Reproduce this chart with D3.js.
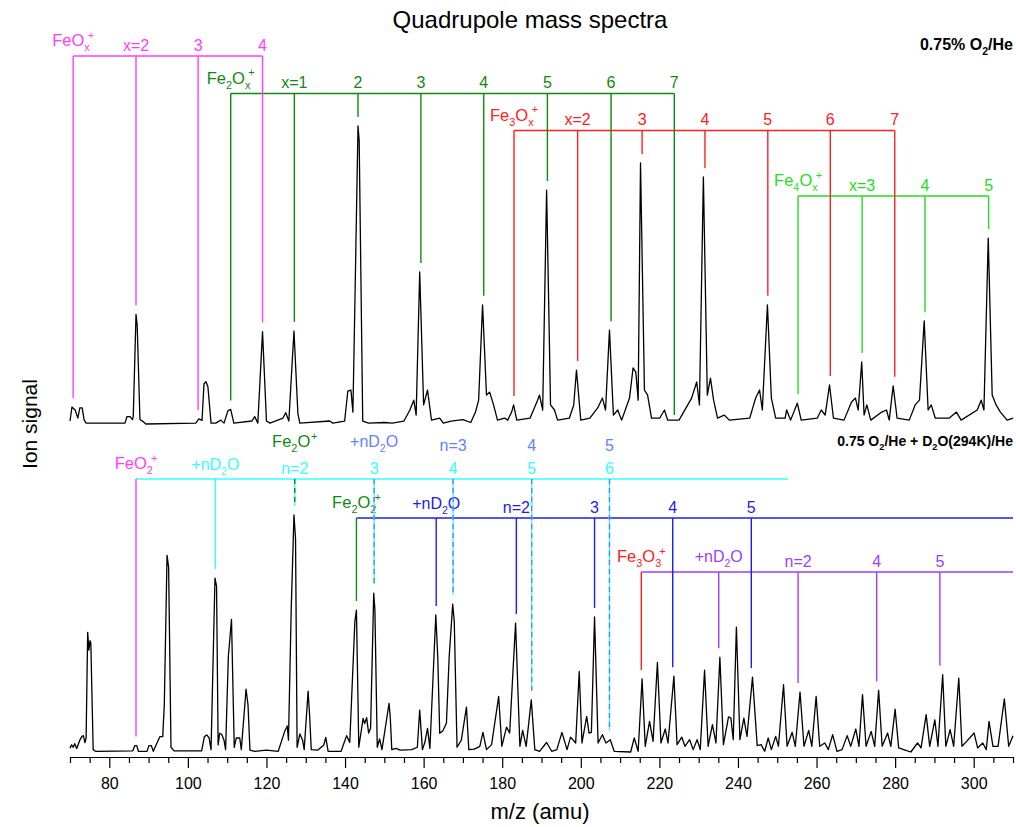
<!DOCTYPE html>
<html lang="en">
<head>
<meta charset="UTF-8">
<title>Quadrupole mass spectra</title>
<script src="https://cdn.jsdelivr.net/npm/d3@7"></script>
<style>
  body { margin: 0; background: #fff; }
  svg { font-family: "Liberation Sans", Arial, sans-serif; }
  .spec { fill: none; stroke: #000; stroke-width: 1.3; stroke-linejoin: round; }
  .axis path, .axis line { stroke: #000; stroke-width: 1.2; }
  .axis text { font-size: 16px; fill: #000; font-family: "Liberation Sans", Arial, sans-serif; }
</style>
</head>
<body>
<svg id="chart"></svg>
<script>
// ---- data ----
var massTicks = [80, 100, 120, 140, 160, 180, 200, 220, 240, 260, 280, 300]

// upper spectrum: 0.75% O2/He  [m/z, signal]
var upperSpectrum = [
  [70.0,1],[70.5,5.7],[71.3,4.7],[72.0,2],[72.5,5.4],[73.1,5.4],[73.6,1.3],[74.1,0.3],
  [84.0,0.3],[84.5,2.5],[85.3,2.5],[85.9,1.5],[86.1,2.5],[86.8,36.8],[87.1,33],[87.8,1.5],[88.6,0.8],[89.3,0],
  [102.0,0.3],[102.8,1.7],[103.6,1.2],[104.1,13.5],[104.6,14.2],[105.1,12.5],[105.9,0.3],
  [107.1,0.3],[108.4,1.3],[109.2,0.3],[110.2,4.5],[110.9,4.9],[111.7,0.3],
  [116.3,1],[117.0,2.5],[117.8,0.3],[119.0,31],[120.0,1],[120.9,0.3],
  [124.2,2],[124.9,3.8],[125.7,1],[127.0,31.2],[128.0,3.5],[128.5,0.3],
  [136.1,1],[136.9,0.3],[139.9,1],[140.7,11],[141.5,11.4],[142.0,4],[142.5,40],[143.3,100],[143.6,95],[144.5,1],
  [146,0.3],[150,0.5],[152,0.3],[155,1],
  [156.5,4.7],[157.5,8],[158.1,3],[159.0,51],[160.0,6.4],[161.0,11.4],[162.0,1.3],
  [164.1,2],[165,0.3],[167,1],[170,1.5],[172,0.5],
  [173.2,4],[174.0,8],[175.0,40],[176.0,9.7],[176.8,10.7],[177.8,6.4],[178.8,1.3],
  [180.6,2],[181.4,1.3],[182.4,4],[182.9,6.4],[183.7,1.3],
  [187.1,2],[189.0,8],[189.5,9.7],[190.3,4.7],[191.3,78.5],[192.3,6.4],[193.3,4.7],[194.1,1.3],
  [197.1,2],[198.2,6.4],[198.9,18.1],[200.0,1.3],
  [202.3,2],[204.3,5.4],[205.5,8.7],[206.3,4.7],[207.3,31.5],[208.3,3],[209.4,4.7],[210.4,1.3],
  [212.4,8.7],[213.3,18.8],[214.0,17.4],[214.6,8],[215.2,87.6],[216.2,11.4],[217.0,9.7],[218.0,2],
  [220.1,2],[221.3,4.7],[222.1,1.3],[225,1.3],
  [228.2,8.7],[229.5,14.1],[230.2,6.4],[231.2,82.9],[232.2,9.7],[233.0,15.4],[233.8,8],[234.8,2],
  [236.5,3],[237.8,1.3],
  [243,2],[244.5,8.7],[245.5,11.4],[246.2,4.7],[247.5,40],[248.5,8.7],[249.6,2],
  [252.0,2],[252.4,4.7],[253.4,1.3],[255.1,7],[256.1,1.3],
  [260.2,2],[261.2,4.7],[262.2,3],[263.3,13.1],[264.3,2],
  [267.0,1.3],[268.9,7.4],[269.9,8.7],[270.6,4.7],[271.5,20.8],[272.1,3],[272.8,6.4],[273.8,1.3],
  [276.6,4],[277.8,4.7],[278.5,1.3],[279.5,12.8],[280.5,2],
  [283.6,1.3],[285.1,6.4],[286.2,8],[287.4,34.6],[288.4,4.7],[289.2,6.4],[290.2,2],
  [293.8,2],[295.6,4],[296.8,1.3],
  [300.9,4.7],[301.9,8],[302.6,4.7],[303.7,62.4],[304.7,9.7],[305.7,6.4],[306.8,4],[308.5,1.3],[310,2]
]

// lower spectrum: 0.75 O2/He + D2O(294K)/He
var lowerSpectrum = [
  [70.0,1.6],[70.4,3],[70.8,2],[71.2,3.5],[71.7,1.5],[72.5,5],[73.0,6.5],[73.4,6.9],[73.8,4],[74.1,6],
  [74.5,50.5],[74.8,43],[75.1,47],[75.3,46],[75.9,1],[76.5,0.3],
  [86.0,0.5],[86.5,2.7],[87.0,2.7],[87.4,0.3],
  [89.6,0.3],[90.1,2.7],[90.7,2.7],[91.2,0.3],
  [92.2,4],[92.9,6.5],[93.6,6.5],[94.0,20],[94.7,83],[95.1,78],[95.7,2],[96.5,0.5],
  [103.5,0.5],[104.2,6.5],[104.8,7.2],[105.4,6],[105.9,1],[106.9,73.4],[107.3,70],[107.7,3],
  [108.1,7.9],[108.6,7.5],[109.2,5],[109.6,1],[110.3,40.2],[111.1,56],[111.8,2],[112.3,5.9],[113.2,5.9],
  [113.6,1],[114.8,26.5],[115.3,20],[115.8,0.8],
  [117,0.3],[120,0.8],[123,0.3],
  [124.7,9],[125.3,11],[125.6,5],[126.3,60],[127.0,100],[127.4,90],[127.8,2],[128.5,7.6],[129.2,5],
  [129.6,1],[130.6,25.7],[131.0,15],[131.4,1],
  [133.1,0.8],[134.6,3],[135.1,6.2],[135.7,0.3],[139.0,0.3],[140.4,6.9],[141.2,4],
  [142.5,55],[142.9,59.9],[143.5,2],[144.6,14.2],[145.0,12],[145.5,14.5],[146.0,8],[146.5,10],
  [147.3,67],[147.6,60],[148.2,2],[148.8,5.5],[149.4,1],[151.2,20.5],[151.5,15],[151.9,1],
  [153,1.5],[154,0.8],[157,1],[158.4,2],[159.0,17.7],[159.7,1],[160.3,4],[161.0,10],[161.6,1.5],
  [163.1,57.8],[163.6,40],[164.1,7.9],[164.9,9],[165.8,12.1],[166.5,40],[167.4,62.4],[167.8,55],
  [168.5,2],[169.6,5],[170.9,18.9],[171.5,1],
  [172.9,1.2],[174.3,2.4],[175.1,8.3],[176.0,1],[177.3,3.1],[179.1,23.5],[179.9,2.4],[181.1,10.5],
  [181.9,8],[183.4,54.4],[184.5,2.4],[185.2,9.1],[186.1,2.4],[187.4,22],[188.3,1],
  [189.5,0.3],[191.3,4],[192.6,0.3],[193.9,1],[195.2,8.3],[196.5,1],[197.4,6.3],[198.7,3.8],
  [199.6,34],[200.3,3.8],[201.5,15],[202.1,8],[202.7,8.3],[203.5,57],[204.4,3.8],[205.5,7.3],
  [206.4,3.8],[207.5,5.2],[208.5,0.3],
  [212.7,0],[213.6,5.9],[214.6,0.3],[215.6,30.8],[216.4,2.4],[217.5,12.9],[218.4,4.5],[219.5,37.8],
  [220.4,3.8],[221.5,9.7],[222.2,3.8],[223.7,32],[224.5,3.1],[225.7,6.3],[226.5,2.4],[227.7,5.2],
  [228.6,1],[229.6,5.2],[230.4,1],[231.5,34.5],[232.4,2.4],[233.5,11.5],[234.4,3.8],[235.4,40],
  [236.3,3.1],[237.6,14.8],[238.2,14.3],[238.8,5.2],[239.6,52.7],[240.5,5.2],[241.5,14.3],[242.3,6.6],
  [243.7,31.6],[244.9,2.7],[245.9,3.1],[246.8,0.3],[247.7,5.9],[248.5,1],[249.6,6.6],[250.3,2.4],
  [251.6,28.4],[252.5,2.4],[253.8,8.3],[254.6,2.4],[255.8,25.3],[256.8,2.4],[258.0,9.1],[258.8,2.4],
  [259.9,23.5],[260.8,2.4],[262.1,3.8],[263.0,1],[264.1,7.3],[265.2,0.3],[266.5,1],[267.8,6.9],
  [268.7,2.4],[270.0,9.7],[270.8,2.4],[271.7,24.2],[272.6,2.4],[273.9,8.7],[274.8,2.4],[275.8,26],
  [276.7,2.4],[278.1,8],[278.9,2.4],[280.0,18.1],[280.9,1.7],[282.2,1],[284.0,0],[285.7,3.8],
  [286.6,1.7],[287.9,15.8],[288.8,2.4],[290.1,13.6],[290.9,2.4],[292.1,32.6],[292.9,2.4],[294.0,9.4],
  [294.9,2.4],[296.2,31.2],[297.0,2.4],[298.2,4.5],[300.1,8],[301.0,1.7],[302.3,3.8],[303.2,1],
  [303.9,12.9],[304.9,2.4],[306.2,2.4],[307.8,22.4],[308.9,2.4],[310,6.9]
]

// peak assignments, upper panel
var feOxMass = [70.8, 86.8, 102.6, 119.0]
var feOxLabels = ['', 'x=2', '3', '4']
var fe2OxMass = [110.9, 127.1, 143.3, 159.3, 175.3, 191.5, 207.7, 223.8]
var fe2OxLabels = ['', 'x=1', '2', '3', '4', '5', '6', '7']
var fe3OxMass = [183.0, 199.2, 215.6, 231.6, 247.6, 263.5, 279.9]
var fe3OxLabels = ['', 'x=2', '3', '4', '5', '6', '7']
var fe4OxMass = [255.3, 271.6, 287.6, 303.8]
var fe4OxLabels = ['', 'x=3', '4', '5']

// peak assignments, lower panel
var feO2Mass = 86.8
var cyanMass = [107.0, 127.2, 147.4, 167.5, 187.5, 207.3]
var cyanLabels = ['+nD_2O', 'n=2', '3', '4', '5', '6']
var cyanEnd = 252.8
var fe2OMass = 127.2
var lightBlueMass = [147.4, 167.5, 187.5, 207.3]
var lightBlueLabels = ['+nD_2O', 'n=3', '4', '5']
var fe2O2Mass = 142.9
var blueMass = [163.2, 183.6, 203.5, 223.4, 243.4]
var blueLabels = ['+nD_2O', 'n=2', '3', '4', '5']
var fe3O3Mass = 215.4
var purpleMass = [235.1, 255.3, 275.3, 291.4]
var purpleLabels = ['+nD_2O', 'n=2', '4', '5']

// ---- layout ----
var W = 1016, H = 827
var svg = d3.select('#chart').attr('width', W).attr('height', H)

var x = d3.scaleLinear().domain([70, 310]).range([70, 1013])
var yTop = d3.scaleLinear().domain([0, 100]).range([424, 126])
var yBot = d3.scaleLinear().domain([0, 100]).range([752, 515])

var C = {
  mag: '#ff3dff', green: '#118811', red: '#ff2020', lime: '#22dd22',
  cyan: '#33ffff', lblue: '#6a7dff', blue: '#1c1cf0', purple: '#9b3dff'
}

// rich text: '_' = subscript next char, '^' = superscript next char
function richText(g, str, tx, ty, opts) {
  var size = opts.size || 16.5
  var t = g.append('text')
    .attr('x', tx).attr('y', ty)
    .attr('text-anchor', opts.anchor || 'middle')
    .attr('font-size', size)
    .attr('font-weight', opts.bold ? 'bold' : null)
    .attr('fill', opts.color || '#000')
  var off = 0, prev = 'n'
  for (var i = 0; i < str.length; i++) {
    var ch = str[i], type = 'n'
    if (ch === '_' || ch === '^') { type = ch === '_' ? 'sub' : 'sup'; ch = str[++i] }
    var target = type === 'sub' ? size * 0.32 : type === 'sup' ? -size * 0.45 : 0
    var ts = t.append('tspan').attr('dy', target - off).text(ch)
    if (type !== 'n') ts.attr('font-size', size * 0.66)
    if (type === 'sup' && prev === 'sub') ts.attr('dx', -size * 0.12)
    if (type === 'sup' && prev === 'n') ts.attr('dx', size * 0.05)
    off = target
    prev = type
  }
  return t
}

// where a marker line stops: a little above the local peak
function tipY(spec, yScale, m) {
  var near = spec.filter(function (d) { return Math.abs(d[0] - m) <= 1.0 })
  var top = d3.max(near, function (d) { return d[1] }) || 0
  return yScale(top) - 9
}

function vline(g, m, y1, y2, color, dash) {
  g.append('line')
    .attr('x1', x(m)).attr('x2', x(m))
    .attr('y1', y1).attr('y2', y2)
    .attr('stroke', color).attr('stroke-width', 1.4)
    .attr('stroke-dasharray', dash || null)
}

function hline(g, m1, m2, yy, color) {
  g.append('line')
    .attr('x1', x(m1)).attr('x2', x(m2))
    .attr('y1', yy).attr('y2', yy)
    .attr('stroke', color).attr('stroke-width', 1.5)
}

// bracket with name at the left end and index labels above each drop line
function bracket(g, masses, labels, name, level, color, spec, yScale, endMass) {
  var last = endMass !== undefined ? endMass : masses[masses.length - 1]
  hline(g, masses[0], last, level, color)
  masses.forEach(function (m, i) {
    vline(g, m, level, tipY(spec, yScale, m), color)
    if (labels[i]) richText(g, labels[i], x(m), level - 5.5, { color: color, size: 16 })
  })
  if (name) richText(g, name, x(masses[0]), level - 10, { color: color })
}

var marks = svg.append('g')

// upper panel (drawn back to front)
bracket(marks, fe4OxMass, fe4OxLabels, 'Fe_4O_x^+', 196, C.lime, upperSpectrum, yTop)
bracket(marks, fe3OxMass, fe3OxLabels, 'Fe_3O_x^+', 130.5, C.red, upperSpectrum, yTop)
bracket(marks, fe2OxMass, fe2OxLabels, 'Fe_2O_x^+', 93.5, C.green, upperSpectrum, yTop)
bracket(marks, feOxMass, feOxLabels, 'FeO_x^+', 56, C.mag, upperSpectrum, yTop)

// lower panel
var lvCyan = 479, lvBlue = 518, lvPurple = 572
// purple: Fe3O3+ + nD2O
hline(marks, fe3O3Mass, 310, lvPurple, C.purple)
vline(marks, fe3O3Mass, lvPurple, tipY(lowerSpectrum, yBot, fe3O3Mass), C.red)
richText(marks, 'Fe_3O_3^+', x(fe3O3Mass), lvPurple - 10, { color: C.red })
purpleMass.forEach(function (m, i) {
  vline(marks, m, lvPurple, tipY(lowerSpectrum, yBot, m), C.purple)
  richText(marks, purpleLabels[i], x(m), lvPurple - (i === 0 ? 10 : 5.5), { color: C.purple, size: 16 })
})

// blue: Fe2O2+ + nD2O
hline(marks, fe2O2Mass, 310, lvBlue, C.blue)
vline(marks, fe2O2Mass, lvBlue, tipY(lowerSpectrum, yBot, fe2O2Mass), C.green)
richText(marks, 'Fe_2O_2^+', x(fe2O2Mass), lvBlue - 10, { color: C.green })
blueMass.forEach(function (m, i) {
  vline(marks, m, lvBlue, tipY(lowerSpectrum, yBot, m), C.blue)
  richText(marks, blueLabels[i], x(m), lvBlue - (i === 0 ? 9 : 5), { color: C.blue, size: 16 })
})

// cyan: FeO2+ + nD2O
hline(marks, feO2Mass, cyanEnd, lvCyan, C.cyan)
cyanMass.forEach(function (m, i) {
  vline(marks, m, lvCyan, tipY(lowerSpectrum, yBot, m), C.cyan)
  richText(marks, cyanLabels[i], x(m), lvCyan - (i === 0 ? 9 : 5), { color: C.cyan, size: 16 })
})
vline(marks, feO2Mass, lvCyan, tipY(lowerSpectrum, yBot, feO2Mass), C.mag)
richText(marks, 'FeO_2^+', x(feO2Mass), lvCyan - 10, { color: C.mag })

// Fe2O+ + nD2O (dashed over the cyan lines)
vline(marks, fe2OMass, lvCyan, tipY(lowerSpectrum, yBot, fe2OMass), C.green, '5,4')
richText(marks, 'Fe_2O^+', x(fe2OMass), lvCyan - 32, { color: C.green })
lightBlueMass.forEach(function (m, i) {
  vline(marks, m, lvCyan, tipY(lowerSpectrum, yBot, m), C.lblue, '5,4')
  richText(marks, lightBlueLabels[i], x(m), lvCyan - (i === 0 ? 32 : 28), { color: C.lblue, size: 16 })
})

// spectra
var lineTop = d3.line().x(function (d) { return x(d[0]) }).y(function (d) { return yTop(d[1]) })
var lineBot = d3.line().x(function (d) { return x(d[0]) }).y(function (d) { return yBot(d[1]) })
svg.append('path').datum(upperSpectrum).attr('class', 'spec').attr('d', lineTop)
svg.append('path').datum(lowerSpectrum).attr('class', 'spec').attr('d', lineBot)

// axis
var axisY = 757
var minor = d3.range(70, 311, 5).filter(function (v) { return massTicks.indexOf(v) < 0 })
svg.append('g').attr('class', 'axis')
  .attr('transform', 'translate(0,' + axisY + ')')
  .call(d3.axisBottom(x).tickValues(minor).tickSize(6).tickSizeOuter(0).tickFormat(''))
svg.append('g').attr('class', 'axis')
  .attr('transform', 'translate(0,' + axisY + ')')
  .call(d3.axisBottom(x).tickValues(massTicks).tickSize(11).tickSizeOuter(0).tickPadding(10))

// titles
svg.append('text').attr('x', 530).attr('y', 28).attr('text-anchor', 'middle')
  .attr('font-size', 24).text('Quadrupole mass spectra')
svg.append('text').attr('x', 540).attr('y', 819).attr('text-anchor', 'middle')
  .attr('font-size', 22).text('m/z (amu)')
svg.append('text').attr('transform', 'translate(37,424) rotate(-90)').attr('text-anchor', 'middle')
  .attr('font-size', 21).text('Ion signal')
richText(svg, '0.75% O_2/He', 1013, 50, { anchor: 'end', bold: true, size: 16 })
richText(svg, '0.75 O_2/He + D_2O(294K)/He', 1013, 446, { anchor: 'end', bold: true, size: 14 })
</script>
</body>
</html>
